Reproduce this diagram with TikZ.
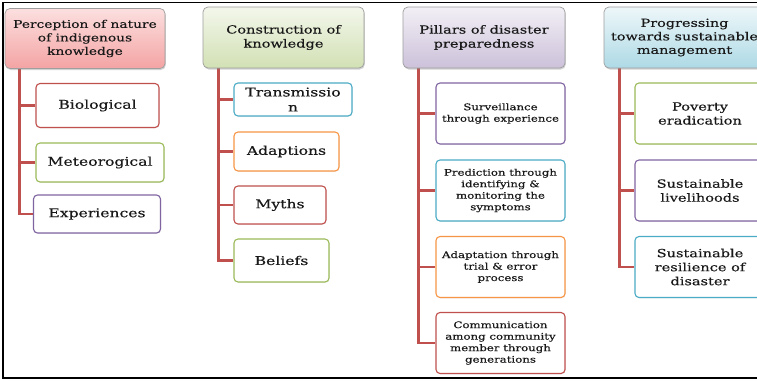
\documentclass[tikz,border=0pt]{standalone}
\usepackage{fontspec}
\setmainfont{DejaVu Serif}[FakeStretch=1.3,FakeBold=0.35]
\usetikzlibrary{shadows,backgrounds}
\definecolor{cred}{HTML}{C0504D}
\definecolor{cgreen}{HTML}{9BBB59}
\definecolor{cpurple}{HTML}{8064A2}
\definecolor{cblue}{HTML}{4BACC6}
\definecolor{corange}{HTML}{F79646}
\definecolor{conncol}{HTML}{C0504D}
\definecolor{pinkA}{HTML}{FCE0E0}
\definecolor{pinkB}{HTML}{F4A3A3}
\tikzset{
  hdr/.style={draw=black!38, line width=0.7pt, rounded corners=5pt, align=center, inner sep=1pt,
    text=black!90, drop shadow={opacity=0.35, shadow xshift=0.8pt, shadow yshift=-1.5pt}},
  hdrA/.style={hdr, top color=pinkA, bottom color=pinkB, font=\fontsize{10.6}{13.5}\selectfont},
  hdrB/.style={hdr, top color=cgreen!12, bottom color=cgreen!45!white, font=\fontsize{11.2}{14}\selectfont},
  hdrC/.style={hdr, top color=cpurple!10, bottom color=cpurple!40!white, font=\fontsize{11.2}{14}\selectfont},
  hdrD/.style={hdr, top color=cblue!10, bottom color=cblue!45!white, font=\fontsize{11.1}{13.5}\selectfont},
  kid/.style={draw=#1, fill=white, line width=1.1pt, rounded corners=4pt, align=center, inner sep=1pt,
    text=black!90, drop shadow={opacity=0.15, shadow xshift=0.6pt, shadow yshift=-0.8pt}},
  conn/.style={draw=conncol, line width=2.6pt},
}
\begin{document}
\begin{tikzpicture}[x=1pt,y=-1pt]
\useasboundingbox (0,0) rectangle (757,380);
\clip (0,0) rectangle (757,380);

% column 1
\node[hdrA, minimum width=160pt, minimum height=60pt] (h1) at (85,38.5) {Perception of nature\\of indigenous\\knowledge};
\node[kid=cred, minimum width=123pt, minimum height=44pt, font=\fontsize{12}{15}\selectfont] (c1a) at (97.5,105.5) {Biological};
\node[kid=cgreen, minimum width=128pt, minimum height=39pt, font=\fontsize{12}{15}\selectfont] (c1b) at (100,162.5) {Meteorogical};
\node[kid=cpurple, minimum width=127pt, minimum height=38pt, font=\fontsize{12}{15}\selectfont] (c1c) at (97,214) {Experiences};

% column 2
\node[hdrB, minimum width=161pt, minimum height=61pt] (h2) at (283.5,37.5) {Construction of\\knowledge};
\node[kid=cblue, minimum width=118pt, minimum height=33pt, font=\fontsize{12}{15}\selectfont] (c2a) at (293,99.5) {Transmissio\\n};
\node[kid=corange, minimum width=105pt, minimum height=39pt, font=\fontsize{12}{15}\selectfont] (c2b) at (286.5,151.5) {Adaptions};
\node[kid=cred, minimum width=92pt, minimum height=38pt, font=\fontsize{12}{15}\selectfont] (c2c) at (280,205) {Myths};
\node[kid=cgreen, minimum width=95pt, minimum height=43pt, font=\fontsize{12}{15}\selectfont] (c2d) at (281.5,260.5) {Beliefs};

% column 3
\node[hdrC, minimum width=162pt, minimum height=61pt] (h3) at (484,37.5) {Pillars of disaster\\preparedness};
\node[kid=cpurple, minimum width=129pt, minimum height=61pt, font=\fontsize{9.05}{11.5}\selectfont] (c3a) at (500.5,113.5) {Surveillance\\through experience};
\node[kid=cblue, minimum width=129pt, minimum height=61pt, font=\fontsize{9.05}{11.5}\selectfont] (c3b) at (500.5,190.5) {Prediction through\\identifying \&\\monitoring the\\symptoms};
\node[kid=corange, minimum width=129pt, minimum height=61pt, font=\fontsize{9.05}{11.5}\selectfont] (c3c) at (500.5,267) {Adaptation through\\trial \& error\\process};
\node[kid=cred, minimum width=129pt, minimum height=61pt, font=\fontsize{9.05}{11.5}\selectfont] (c3d) at (500.5,343) {Communication\\among community\\member through\\generations};

% column 4
\node[hdrD, minimum width=161pt, minimum height=61pt] (h4) at (684.5,37.5) {Progressing\\towards sustainable\\management};
\node[kid=cgreen, minimum width=130pt, minimum height=61pt, font=\fontsize{11.2}{14}\selectfont] (c4a) at (700,113.5) {Poverty\\eradication};
\node[kid=cpurple, minimum width=130pt, minimum height=61pt, font=\fontsize{11.2}{14}\selectfont] (c4b) at (700,190.5) {Sustainable\\livelihoods};
\node[kid=cblue, minimum width=130pt, minimum height=61pt, font=\fontsize{11.2}{14}\selectfont] (c4c) at (700,267) {Sustainable\\resilience of\\disaster};

% connectors and page, behind the boxes
\begin{scope}[on background layer]
\fill[white] (0,0) rectangle (757,380);
\draw[line width=1.4pt, black] (760,2.5) -- (3,2.5) -- (3,377.8) -- (760,377.8);
\foreach \c in {c1a,c1b,c1c} \draw[conn] ([xshift=15pt]h1.south west) |- (\c.west);
\foreach \c in {c2a,c2b,c2c,c2d} \draw[conn] ([xshift=16pt]h2.south west) |- (\c.west);
\foreach \c in {c3a,c3b,c3c,c3d} \draw[conn] ([xshift=16pt]h3.south west) |- (\c.west);
\foreach \c in {c4a,c4b,c4c} \draw[conn] ([xshift=16pt]h4.south west) |- (\c.west);
\end{scope}
\end{tikzpicture}
\end{document}
